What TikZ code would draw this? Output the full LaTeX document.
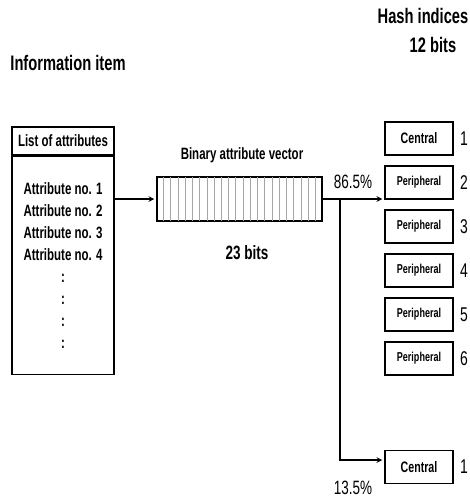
\documentclass[tikz,border=0pt]{standalone}
\usepackage{fontspec}
\setmainfont{Liberation Sans}[FakeStretch=0.7]
\usetikzlibrary{calc}

\begin{document}
\begin{tikzpicture}[
    x=1pt, y=-1pt,
    box/.style={draw, line width=1.5pt, inner sep=0pt},
    idxbox/.style={box, minimum width=68pt, minimum height=33pt},
    central/.style={font=\bfseries\fontsize{15.2}{17}\selectfont},
    periph/.style={font=\bfseries\fontsize{12.9}{15}\selectfont},
    head/.style={font=\bfseries\fontsize{21}{23}\selectfont},
    label/.style={font=\bfseries\fontsize{16.4}{18}\selectfont},
    num/.style={font=\fontsize{19.9}{22}\selectfont},
    pct/.style={font=\fontsize{19.3}{21}\selectfont},
    line/.style={line width=1.5pt},
    arrow/.style={->, line width=1.5pt, >=stealth, shorten >=2pt},
    stripe/.style={gray!70, line width=0.8pt, shorten <=0.8pt, shorten >=0.8pt}
]

    % Page size of the reference
    \useasboundingbox (0,0) rectangle (469,500);

    \def\idxX{419} % X-coordinate of the hash index boxes
    \def\numX{464} % X-coordinate of the index numbers

    % Headings
    \node[head] (info) at (68,63) {Information item};
    \node[head] (hash) at (423,16) {Hash indices};
    \node[head] (hashbits) at (433,45) {12 bits};

    % Information item: list of attributes
    \node[box, label, minimum width=102pt, minimum height=28pt] (listhead) at (63,141) {List of attributes};
    \node[box, anchor=north, minimum width=102pt, minimum height=218pt, align=center,
          font=\bfseries\fontsize{16.4}{22}\selectfont] (listbody) at (listhead.south)
        {Attribute no. 1\\Attribute no. 2\\Attribute no. 3\\Attribute no. 4\\:\\:\\:\\:};

    % Binary attribute vector with 23 cells
    \node[box, minimum width=165pt, minimum height=44pt] (vec) at (239.5,199) {};
    \foreach \k in {1,...,22}
        \draw[stripe] ($(vec.north west)!\k/23!(vec.north east)$) -- ($(vec.south west)!\k/23!(vec.south east)$);
    \node[label] (veclabel) at (242,155) {Binary attribute vector};
    \node[font=\bfseries\fontsize{19.3}{21}\selectfont] (veclen) at (247,253) {23 bits};

    % Hash indices
    \foreach \k/\kind/\txt in {1/central/Central, 2/periph/Peripheral, 3/periph/Peripheral,
                               4/periph/Peripheral, 5/periph/Peripheral, 6/periph/Peripheral} {
        \node[idxbox, \kind] (idx\k) at (\idxX, {94.5+44*\k}) {\txt};
        \node[num] (num\k) at (\numX, {94.5+44*\k}) {\k};
    }
    \node[idxbox, central] (low) at (\idxX,467) {Central};
    \node[num] (lownum) at (\numX,467) {1};

    % Shares of the two branches
    \node[pct] (upper) at (353,182) {86.5\%};
    \node[pct] (lower) at (353,488) {13.5\%};

    % Arrows
    \coordinate (split) at (340,199);
    \coordinate (lowin) at ($(low.west)+(0,-7)$);
    \draw[arrow] (listbody.east |- vec.west) -- (vec.west);
    \draw[arrow] (vec.east) -- (split -| idx2.west);
    \draw[arrow] (split) |- (lowin);

\end{tikzpicture}
\end{document}
